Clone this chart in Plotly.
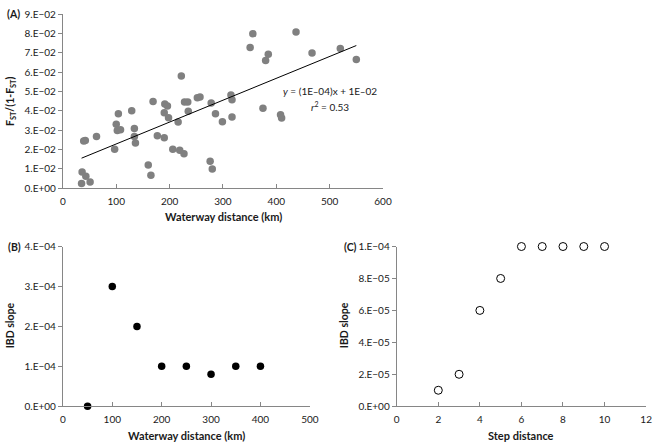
import plotly.graph_objects as go

# ---------------- data ----------------
# Panel A: pairwise waterway distance (km) vs FST/(1-FST)
dist_km = [35, 36, 43, 51, 39, 42, 63, 97, 100, 102, 104, 108, 129, 134, 134, 136,
           160, 165, 169, 177, 190, 191, 190, 196, 198, 206, 216, 219, 222, 227,
           228, 234, 235, 252, 257, 276, 278, 280, 286, 299, 315, 317, 317, 351,
           356, 375, 380, 385, 408, 410, 437, 467, 520, 550]
fst_lin = [0.0025, 0.0084, 0.0062, 0.0032, 0.0244, 0.0247, 0.0268, 0.0201, 0.0331,
           0.0298, 0.0385, 0.0303, 0.0401, 0.0309, 0.0268, 0.0234, 0.0120, 0.0067,
           0.0448, 0.0271, 0.0261, 0.0435, 0.0390, 0.0425, 0.0365, 0.0201, 0.0343,
           0.0197, 0.0580, 0.0179, 0.0446, 0.0446, 0.0398, 0.0468, 0.0472, 0.0139,
           0.0440, 0.0099, 0.0385, 0.0344, 0.0482, 0.0457, 0.0368, 0.0727, 0.0799,
           0.0413, 0.0660, 0.0692, 0.0380, 0.0363, 0.0808, 0.0699, 0.0722, 0.0666]
trend_slope = 1.13e-4
trend_intercept = 0.0116
eq_text = "<i>y</i> = (1E\u201204)x + 1E\u201202"
r2_text = "<i>r</i><sup>2</sup> = 0.53"

# Panel B: IBD slope vs waterway distance class
b_dist = [50, 100, 150, 200, 250, 300, 350, 400]
b_slope = [0.0, 3e-4, 2e-4, 1e-4, 1e-4, 8e-5, 1e-4, 1e-4]

# Panel C: IBD slope vs step distance
c_step = [2, 3, 4, 5, 6, 7, 8, 9, 10]
c_slope = [1e-5, 2e-5, 6e-5, 8e-5, 1e-4, 1e-4, 1e-4, 1e-4, 1e-4]

# tick labels
a_yvals = [i * 0.01 for i in range(10)]
a_ytext = ["0.E+00"] + ["%d.E\u221202" % i for i in range(1, 10)]
a_xvals = list(range(0, 601, 100))
b_yvals = [0, 1e-4, 2e-4, 3e-4, 4e-4]
b_ytext = ["0.E+00", "1.E\u221204", "2.E\u221204", "3.E\u221204", "4.E\u221204"]
b_xvals = list(range(0, 501, 100))
c_yvals = [0, 2e-5, 4e-5, 6e-5, 8e-5, 1e-4]
c_ytext = ["0.E+00", "2.E\u221205", "4.E\u221205", "6.E\u221205", "8.E\u221205", "1.E\u221204"]
c_xvals = list(range(0, 13, 2))

# ---------------- figure ----------------
W, H = 662, 447
FONT = "Lato"
TXT = "#1a1a1a"
AX = "#868686"

def px_x(p):
    return p / W

def px_y(p):
    return 1 - p / H

fig = go.Figure()

fig.add_trace(go.Scatter(x=dist_km, y=fst_lin, mode="markers", xaxis="x", yaxis="y",
                         marker=dict(size=7.5, color="#808080"), cliponaxis=False,
                         showlegend=False, hoverinfo="skip"))
xs = [min(dist_km), max(dist_km)]
fig.add_trace(go.Scatter(x=xs, y=[trend_slope * v + trend_intercept for v in xs],
                         mode="lines", xaxis="x", yaxis="y",
                         line=dict(color="#000000", width=1), showlegend=False,
                         hoverinfo="skip"))
fig.add_trace(go.Scatter(x=b_dist, y=b_slope, mode="markers", xaxis="x2", yaxis="y2",
                         marker=dict(size=7.5, color="#000000"), cliponaxis=False,
                         showlegend=False, hoverinfo="skip"))
fig.add_trace(go.Scatter(x=c_step, y=c_slope, mode="markers", xaxis="x3", yaxis="y3",
                         marker=dict(size=8, color="#ffffff",
                                     line=dict(color="#000000", width=1)),
                         cliponaxis=False, showlegend=False, hoverinfo="skip"))

def xax(dom, rng, vals, anchor):
    return dict(domain=dom, range=rng, tickvals=vals, ticktext=[str(v) for v in vals],
                showline=True, linecolor=AX, linewidth=1, ticks="inside", ticklen=4,
                tickcolor=AX, showgrid=False, zeroline=False, anchor=anchor,
                ticklabelstandoff=4,
                tickfont=dict(family=FONT, size=10, color=TXT), fixedrange=True)

def yax(dom, rng, vals, text, anchor):
    return dict(domain=dom, range=rng, tickvals=vals, ticktext=text,
                showline=True, linecolor=AX, linewidth=1, ticks="outside", ticklen=4,
                tickcolor=AX, showgrid=False, zeroline=False, anchor=anchor,
                tickfont=dict(family=FONT, size=10, color=TXT), fixedrange=True)

xA = [px_x(61), px_x(387)]
yA = [px_y(186.7), px_y(7.3)]
xB = [px_x(61), px_x(312.5)]
yBC = [px_y(411.2), px_y(246.7)]
xC = [px_x(401), px_x(655)]

fig.update_layout(
    width=W, height=H, margin=dict(l=0, r=0, t=0, b=0),
    paper_bgcolor="white", plot_bgcolor="white",
    font=dict(family=FONT, size=10, color=TXT),
    xaxis=xax(xA, [0, 600], a_xvals, "y"),
    yaxis=yax(yA, [0, 0.09], a_yvals, a_ytext, "x"),
    xaxis2=xax(xB, [0, 500], b_xvals, "y2"),
    yaxis2=yax(yBC, [0, 4e-4], b_yvals, b_ytext, "x2"),
    xaxis3=xax(xC, [0, 12], c_xvals, "y3"),
    yaxis3=yax(yBC, [0, 1e-4], c_yvals, c_ytext, "x3"),
    hovermode=False,
)

def ann(text, x, y, size=10.5, bold=True, angle=0, xanchor="center"):
    t = "<b>%s</b>" % text if bold else text
    fig.add_annotation(text=t, x=px_x(x), y=px_y(y), xref="paper", yref="paper",
                       showarrow=False, textangle=angle, xanchor=xanchor, yanchor="middle",
                       font=dict(family=FONT, size=size, color=TXT))

# panel labels
ann("(A)", 2, 7.5, xanchor="left")
ann("(B)", 3, 247, xanchor="left")
ann("(C)", 345, 247, xanchor="left")
# axis titles
ann("Waterway distance (km)", 224.5, 216, size=11)
ann("Waterway distance (km)", 187, 441, size=11)
ann("Step distance", 527.5, 441, size=11)
ann("F<sub>ST</sub>/(1-F<sub>ST</sub>)", 8, 97, angle=-90)
ann("IBD slope", 8, 328, angle=-90)
ann("IBD slope", 348, 328, angle=-90)

# regression equation (in data coordinates of panel A)
fig.add_annotation(text=eq_text, x=500, y=0.0505, xref="x", yref="y", showarrow=False,
                   font=dict(family=FONT, size=10, color=TXT))
fig.add_annotation(text=r2_text, x=500, y=0.0422, xref="x", yref="y", showarrow=False,
                   font=dict(family=FONT, size=10, color=TXT))

fig.write_html("out.html", config={"displayModeBar": False, "staticPlot": True},
               post_script="document.body.style.margin='0';document.body.style.overflow='hidden';")
